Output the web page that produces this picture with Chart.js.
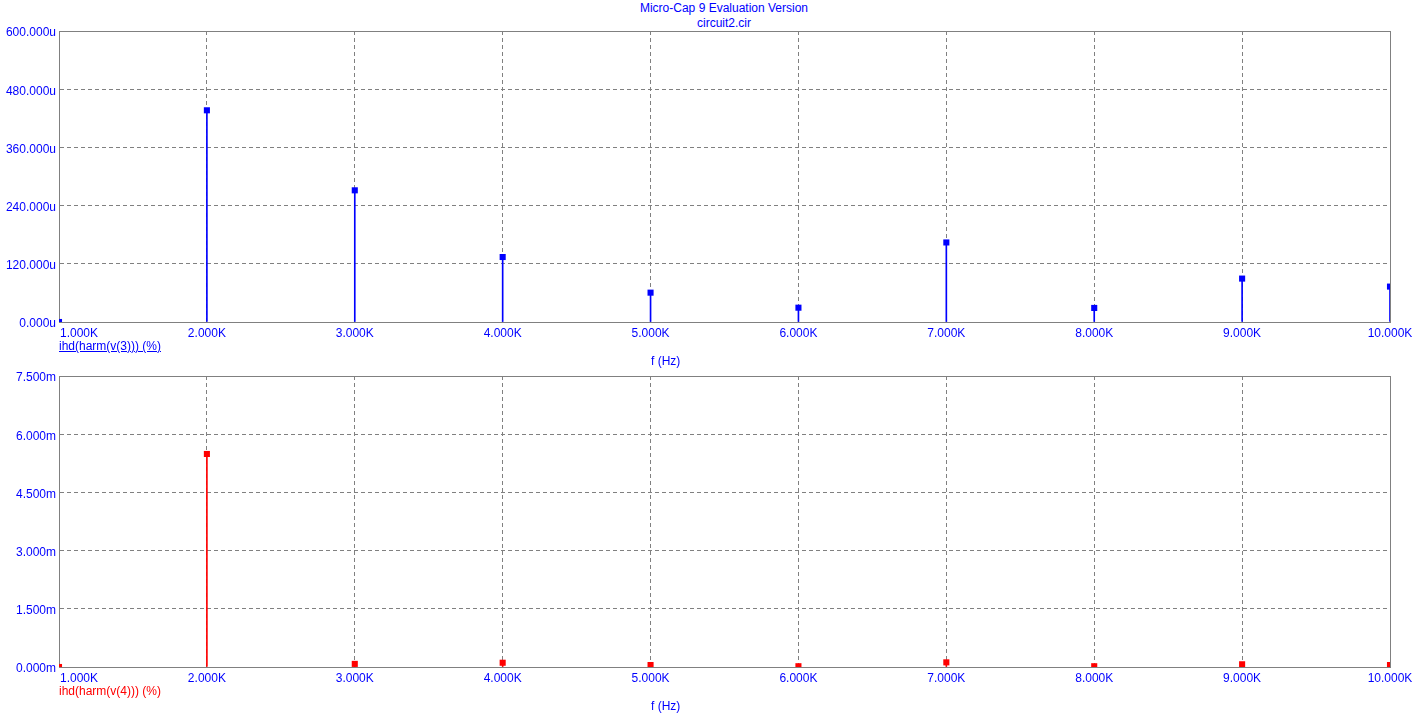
<!DOCTYPE html>
<html>
<head>
<meta charset="utf-8">
<script src="https://cdn.jsdelivr.net/npm/chart.js@4/dist/chart.umd.min.js"></script>
<style>
  html, body { margin: 0; padding: 0; background: #fff; }
  body { width: 1422px; height: 719px; position: relative; overflow: hidden;
         font-family: "Liberation Sans", Arial, sans-serif; font-size: 12px; }
  .box { position: absolute; left: 0; width: 1422px; height: 345px; }
  .txt { position: absolute; white-space: nowrap; line-height: 14px; }
  .blue { color: #0000ff; }
  .red { color: #ff0000; }
</style>
</head>
<body>
<div class="txt blue" style="left:0;width:1448px;text-align:center;top:1px;">Micro-Cap 9 Evaluation Version</div>
<div class="txt blue" style="left:0;width:1448px;text-align:center;top:16px;">circuit2.cir</div>

<div class="box" style="top:0;"><canvas id="graficaV3" width="1422" height="345"></canvas></div>
<div class="box" style="top:345px;"><canvas id="graficaV4" width="1422" height="345"></canvas></div>

<div class="txt blue" style="left:59px;top:339px;text-decoration:underline;">ihd(harm(v(3))) (%)</div>
<div class="txt blue" style="left:651px;top:354px;">f (Hz)</div>
<div class="txt red" style="left:59px;top:684px;">ihd(harm(v(4))) (%)</div>
<div class="txt blue" style="left:651px;top:699px;">f (Hz)</div>

<script>
// ——— Datos ——————————————————————————————————————
const frecuencias = [1000, 2000, 3000, 4000, 5000, 6000, 7000, 8000, 9000, 10000];
const etiquetasX = ["1.000K", "2.000K", "3.000K", "4.000K", "5.000K",
                    "6.000K", "7.000K", "8.000K", "9.000K", "10.000K"];

// ihd(harm(v(3))) en u%
const valoresV3 = [0, 436.5, 271.5, 134, 60.5, 29.5, 164, 29, 89.5, 73];
const etiquetasV3 = ["0.000u", "120.000u", "240.000u", "360.000u", "480.000u", "600.000u"];

// ihd(harm(v(4))) en m%
const valoresV4 = [0, 5.49, 0.08, 0.11, 0.05, 0.02, 0.12, 0.02, 0.07, 0.05];
const etiquetasV4 = ["0.000m", "1.500m", "3.000m", "4.500m", "6.000m", "7.500m"];

// ——— Helpers ————————————————————————————————————
const GRIS = "#808080";
const FUENTE = { family: "'Liberation Sans', Arial, sans-serif", size: 12 };

const marco = {
    id: "marco",
    beforeDatasetsDraw(chart) {
        const { ctx, chartArea: a } = chart;
        ctx.save();
        ctx.strokeStyle = GRIS;
        ctx.lineWidth = 1;
        ctx.strokeRect(a.left + 0.5, a.top + 0.5, a.right - a.left, a.bottom - a.top);
        ctx.restore();
    },
};

function crearChart(canvasId, valores, etiquetasY, maxY, color) {
    const puntos = frecuencias.map((f, i) => ({ x: f, y: valores[i] }));
    const ctx = document.getElementById(canvasId).getContext("2d");
    return new Chart(ctx, {
        type: "bar",
        data: {
            datasets: [
                {
                    type: "scatter",
                    data: puntos,
                    pointStyle: "rect",
                    pointRadius: 4.3,
                    pointBorderWidth: 0,
                    backgroundColor: color,
                    borderColor: color,
                    clip: 0,
                    order: 0,
                },
                {
                    type: "bar",
                    data: puntos,
                    barThickness: 1,
                    backgroundColor: color,
                    borderWidth: 0,
                    clip: 0,
                    order: 1,
                },
            ],
        },
        options: {
            responsive: false,
            animation: false,
            devicePixelRatio: 1,
            layout: { padding: { left: 0, right: 32, top: 31, bottom: 0 } },
            plugins: { legend: { display: false }, tooltip: { enabled: false } },
            scales: {
                x: {
                    type: "linear",
                    offset: false,
                    min: 1000,
                    max: 10000,
                    afterFit: (s) => { s.height = 23; },
                    afterBuildTicks: (s) => { s.ticks = frecuencias.map((v) => ({ value: v })); },
                    ticks: {
                        color: "#0000ff",
                        font: FUENTE,
                        padding: 4,
                        maxRotation: 0,
                        autoSkip: false,
                        callback: (v, i) => (i === 0 ? "            " : "") + etiquetasX[i],
                    },
                    grid: { color: GRIS, drawTicks: false, offset: false },
                    border: { color: GRIS, dash: [4, 3] },
                },
                y: {
                    min: 0,
                    max: maxY,
                    afterFit: (s) => { s.width = 59; },
                    afterBuildTicks: (s) => {
                        s.ticks = etiquetasY.map((_, i) => ({ value: (maxY / 5) * i }));
                    },
                    ticks: {
                        color: "#0000ff",
                        font: FUENTE,
                        padding: 3,
                        labelOffset: 2,
                        callback: (v, i) => etiquetasY[i],
                    },
                    grid: { color: GRIS, drawTicks: false },
                    border: { color: GRIS, dash: [4, 3] },
                },
            },
        },
        plugins: [marco],
    });
}

// ——— Principal ——————————————————————————————————
crearChart("graficaV3", valoresV3, etiquetasV3, 600, "#0000ff");
crearChart("graficaV4", valoresV4, etiquetasV4, 7.5, "#ff0000");
</script>
</body>
</html>
